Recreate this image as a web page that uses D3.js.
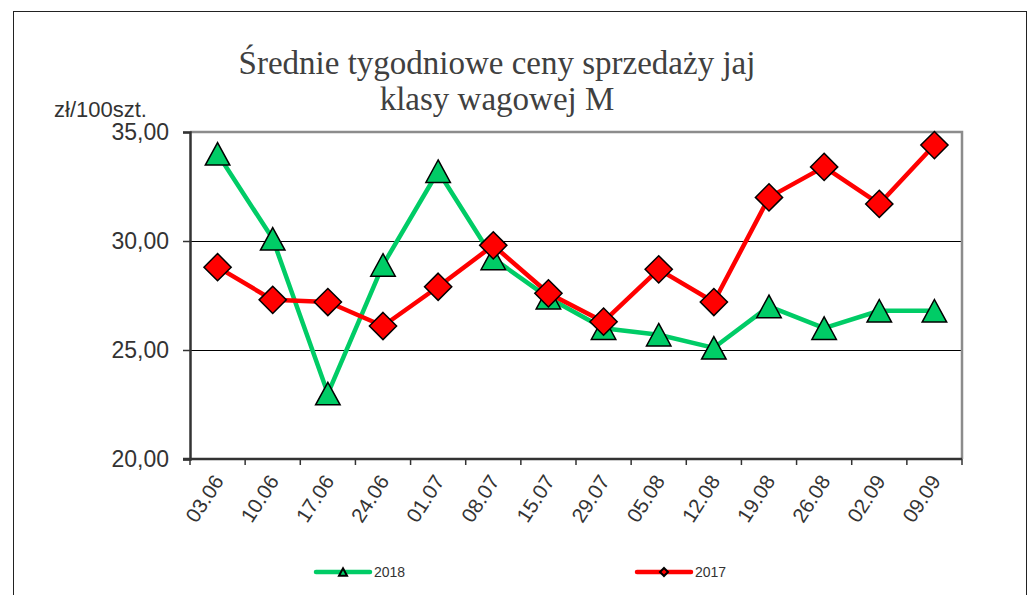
<!DOCTYPE html>
<html>
<head>
<meta charset="utf-8">
<script src="https://cdn.jsdelivr.net/npm/d3@7"></script>
<style>
  body { margin: 0; background: #fff; }
  svg { display: block; }
</style>
</head>
<body>
<div id="chart"></div>
<script>
// Średnie tygodniowe ceny sprzedaży jaj, klasa M

const weeks = ["03.06", "10.06", "17.06", "24.06", "01.07", "08.07", "15.07",
               "29.07", "05.08", "12.08", "19.08", "26.08", "02.09", "09.09"];
const values2018 = [34.0, 30.1, 23.0, 28.9, 33.2, 29.2, 27.4, 26.0, 25.7, 25.1, 27.0, 26.0, 26.8, 26.8];
const values2017 = [28.8, 27.3, 27.2, 26.1, 27.9, 29.8, 27.6, 26.3, 28.7, 27.2, 32.0, 33.4, 31.7, 34.4];
const yTicks = [20, 25, 30, 35];
const seriesNames = ["2018", "2017"];

const width = 1030,
    height = 595,
    margin = ({ top: 132, right: 68, bottom: 136, left: 190 });

const svg = d3.select("#chart")
    .append("svg")
    .attr("width", width)
    .attr("height", height);

// outer chart frame
svg.append("rect")
    .attr("x", 13.5).attr("y", 11.5)
    .attr("width", 1013).attr("height", 600)
    .attr("fill", "none")
    .attr("stroke", "#222")
    .attr("stroke-width", 1);

const x = d3.scaleBand()
    .domain(weeks)
    .range([margin.left, width - margin.right]);

const y = d3.scaleLinear()
    .domain([20, 35])
    .range([height - margin.bottom, margin.top]);

const cx = d => x(d) + x.bandwidth() / 2;

// excel-like markers: triangle centred on its box, square diamond
const triangle = {
  draw(ctx, size) {
    const s = Math.sqrt(size), h = s * 0.92;
    ctx.moveTo(0, -h / 2);
    ctx.lineTo(s / 2, h / 2);
    ctx.lineTo(-s / 2, h / 2);
    ctx.closePath();
  }
};
const diamond = {
  draw(ctx, size) {
    const r = Math.sqrt(size) / 2;
    ctx.moveTo(0, -r);
    ctx.lineTo(r, 0);
    ctx.lineTo(0, r);
    ctx.lineTo(-r, 0);
    ctx.closePath();
  }
};

// gridlines (inner only)
svg.append("g")
  .selectAll("line")
  .data(yTicks.filter(t => t > 20 && t < 35))
  .join("line")
    .attr("x1", margin.left).attr("x2", width - margin.right)
    .attr("y1", d => Math.round(y(d)) + 0.5).attr("y2", d => Math.round(y(d)) + 0.5)
    .attr("stroke", "#000")
    .attr("stroke-width", 1);

// plot frame top + right
svg.append("path")
    .attr("d", `M${margin.left},${y(35)}H${width - margin.right}V${y(20)}`)
    .attr("fill", "none")
    .attr("stroke", "#8c8c8c")
    .attr("stroke-width", 2.5);

// y axis
const yAxis = svg.append("g")
    .attr("transform", `translate(${margin.left},0)`)
    .call(d3.axisLeft(y).tickValues(yTicks).tickSize(7).tickPadding(14)
      .tickFormat(d => d3.format(".2f")(d).replace(".", ",")));
yAxis.select(".domain").attr("stroke", "#333").attr("stroke-width", 2.5);
yAxis.selectAll(".tick line").attr("stroke", "#333").attr("stroke-width", 1.5);
yAxis.selectAll("text")
    .attr("font-family", "Liberation Sans, Arial, sans-serif")
    .attr("font-size", 23)
    .attr("fill", "#333");

// x axis with ticks between categories
const xAxis = svg.append("g")
    .attr("transform", `translate(0,${y(20)})`);
xAxis.append("line")
    .attr("x1", margin.left - 7).attr("x2", width - margin.right)
    .attr("stroke", "#333").attr("stroke-width", 2.5);
xAxis.selectAll(".tk")
  .data(weeks.concat(["end"]))
  .join("line")
    .attr("class", "tk")
    .attr("x1", (d, i) => margin.left + i * x.bandwidth())
    .attr("x2", (d, i) => margin.left + i * x.bandwidth())
    .attr("y1", 0).attr("y2", 6)
    .attr("stroke", "#333").attr("stroke-width", 1.5);
xAxis.selectAll("text")
  .data(weeks)
  .join("text")
    .attr("transform", d => `translate(${cx(d) + 7},${22}) rotate(-57)`)
    .attr("text-anchor", "end")
    .attr("font-family", "Liberation Sans, Arial, sans-serif")
    .attr("font-size", 20.5)
    .attr("fill", "#333")
    .text(d => d);

// series
const series = [
  { name: seriesNames[0], values: values2018, color: "#00cc66", marker: triangle, size: 600 },
  { name: seriesNames[1], values: values2017, color: "#ff0000", marker: diamond, size: 740 }
];

const line = d3.line()
    .x((d, i) => cx(weeks[i]))
    .y(d => y(d));

for (const s of series) {
  svg.append("path")
    .datum(s.values)
    .attr("fill", "none")
    .attr("stroke", s.color)
    .attr("stroke-width", 4.5)
    .attr("stroke-linejoin", "round")
    .attr("d", line);

  svg.append("g")
    .selectAll("path")
    .data(s.values)
    .join("path")
      .attr("transform", (d, i) => `translate(${cx(weeks[i])},${y(d)})`)
      .attr("d", d3.symbol().type(s.marker).size(s.size))
      .attr("fill", s.color)
      .attr("stroke", "#000")
      .attr("stroke-width", 1.5);
}

// title
const title = svg.append("text")
    .attr("text-anchor", "middle")
    .attr("font-family", "Liberation Serif, serif")
    .attr("font-size", 33)
    .attr("fill", "#404040");
title.append("tspan").attr("x", 497).attr("y", 74).text("Średnie tygodniowe ceny sprzedaży jaj");
title.append("tspan").attr("x", 497).attr("y", 110).text("klasy wagowej M");

// unit label
svg.append("text")
    .attr("x", 54).attr("y", 117)
    .attr("font-family", "Liberation Sans, Arial, sans-serif")
    .attr("font-size", 22)
    .attr("fill", "#333")
    .text("zł/100szt.");

// legend
const legendX = [316, 637];
const legend = svg.append("g")
  .selectAll("g")
  .data(series)
  .join("g")
    .attr("transform", (d, i) => `translate(${legendX[i]},572)`);
legend.append("line")
    .attr("x1", 0).attr("x2", 54)
    .attr("stroke", d => d.color)
    .attr("stroke-width", 4.5)
    .attr("stroke-linecap", "round");
legend.append("path")
    .attr("transform", "translate(27,0)")
    .attr("d", d => d3.symbol().type(d.marker).size(64)())
    .attr("fill", d => d.color)
    .attr("stroke", "#000")
    .attr("stroke-width", 2);
legend.append("text")
    .attr("x", 58).attr("y", 5)
    .attr("font-family", "Liberation Sans, Arial, sans-serif")
    .attr("font-size", 14)
    .attr("fill", "#333")
    .text(d => d.name);
</script>
</body>
</html>
